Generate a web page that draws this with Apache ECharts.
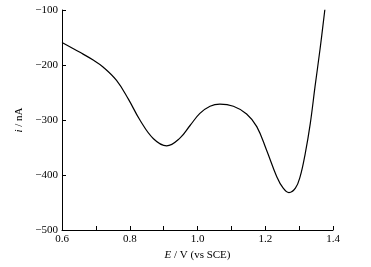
<!DOCTYPE html>
<html>
<head>
<meta charset="utf-8">
<script src="https://cdn.jsdelivr.net/npm/echarts@6/dist/echarts.min.js"></script>
<style>
  html, body { margin: 0; padding: 0; background: #fff; }
  #chart { width: 371px; height: 267px; }
</style>
</head>
<body>
<div id="chart"></div>
<script>
// potential (V vs SCE) and current (nA)
const potential = [0.6, 0.653, 0.692, 0.722, 0.761, 0.796, 0.83, 0.87, 0.909,
  0.948, 0.978, 1.007, 1.037, 1.066, 1.106, 1.145, 1.175, 1.204, 1.234, 1.253,
  1.27, 1.289, 1.303, 1.318, 1.333, 1.347, 1.362, 1.376];
const current = [-159, -177, -191, -204, -228, -262, -300, -334, -347,
  -333, -310, -288, -275, -271, -275, -289, -312, -355, -403, -424,
  -432, -424, -403, -361, -306, -239, -170, -99];

const fontFamily = '"Liberation Serif", "DejaVu Serif", serif';
const minus = v => String(v).replace('-', '\u2212');

const chart = echarts.init(document.getElementById('chart'));

chart.setOption({
  animation: false,
  backgroundColor: '#fff',
  grid: {left: 62, right: 38, top: 10, bottom: 37},
  xAxis: {
    type: 'value',
    min: 0.6,
    max: 1.4,
    interval: 0.2,
    name: '{it|E} / V (vs SCE)',
    nameLocation: 'middle',
    nameGap: 18,
    nameTextStyle: {
      color: '#000', fontSize: 11, fontFamily,
      rich: {it: {fontStyle: 'italic', fontSize: 11, fontFamily, color: '#000'}}
    },
    axisLine: {onZero: false, lineStyle: {color: '#000', width: 1}},
    axisTick: {inside: true, length: 4, lineStyle: {color: '#000'}},
    minorTick: {show: true, splitNumber: 2, length: 4, lineStyle: {color: '#000'}},
    axisLabel: {color: '#000', fontSize: 11, fontFamily, margin: 4,
      formatter: v => v.toFixed(1)},
    splitLine: {show: false}
  },
  yAxis: {
    type: 'value',
    min: -500,
    max: -100,
    interval: 100,
    name: '{it|i} / nA',
    nameLocation: 'middle',
    nameGap: 36,
    nameTextStyle: {
      color: '#000', fontSize: 11, fontFamily,
      rich: {it: {fontStyle: 'italic', fontSize: 11, fontFamily, color: '#000'}}
    },
    axisLine: {show: true, onZero: false, lineStyle: {color: '#000', width: 1}},
    axisTick: {show: true, inside: true, length: 4, lineStyle: {color: '#000'}},
    axisLabel: {color: '#000', fontSize: 11, fontFamily, margin: 4, formatter: minus},
    splitLine: {show: false}
  },
  series: [{
    type: 'line',
    data: potential.map((e, k) => [e, current[k]]),
    smooth: 0.4,
    showSymbol: false,
    lineStyle: {color: '#000', width: 1.2}
  }]
});
</script>
</body>
</html>
